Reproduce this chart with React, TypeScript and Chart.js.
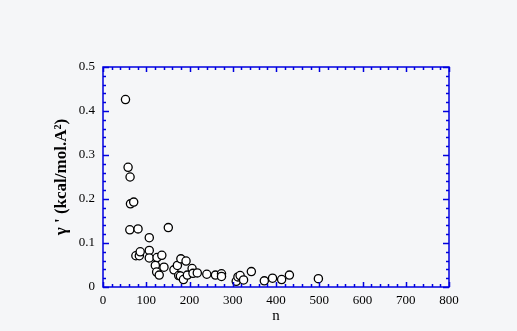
import React, { useEffect, useRef } from "react";
import { Chart, registerables } from "chart.js";

Chart.register(...registerables);

const nValues: number[] = [
  52, 58, 62.6, 63.5, 71, 62, 81, 151, 107, 76, 84, 86, 107, 107, 125, 136,
  121, 124, 130, 141, 164, 172, 180, 192, 175, 179, 186, 195, 206, 208, 218,
  240, 260, 274, 274, 308, 312, 317, 325, 343, 373, 392, 413, 431, 498,
];
const gammaValues: number[] = [
  0.426, 0.272, 0.25, 0.189, 0.193, 0.13, 0.132, 0.135, 0.112, 0.071, 0.071,
  0.08, 0.083, 0.066, 0.067, 0.072, 0.049, 0.034, 0.027, 0.045, 0.039, 0.049,
  0.064, 0.059, 0.026, 0.025, 0.017, 0.027, 0.042, 0.031, 0.032, 0.029, 0.027,
  0.03, 0.024, 0.013, 0.023, 0.026, 0.016, 0.035, 0.014, 0.02, 0.017, 0.027,
  0.019,
];
const xTicks: number[] = [0, 100, 200, 300, 400, 500, 600, 700, 800];
const yTicks: number[] = [0, 0.1, 0.2, 0.3, 0.4, 0.5];
const xTitle = "n";
const yTitle = "γ ' (kcal/mol.A²)";

const AXIS_COLOR = "#0000e0";
const BG = "#f5f6f8";

const framePlugin = {
  id: "frameTicks",
  beforeDraw(chart: any) {
    const { ctx, width, height } = chart;
    ctx.save();
    ctx.fillStyle = BG;
    ctx.fillRect(0, 0, width, height);
    ctx.restore();
  },
  afterDraw(chart: any) {
    const { ctx, chartArea } = chart;
    const xs = chart.scales.x;
    const ys = chart.scales.y;
    const { left, right, top, bottom } = chartArea;
    ctx.save();
    ctx.strokeStyle = AXIS_COLOR;
    ctx.lineWidth = 1.5;
    ctx.beginPath();
    for (let v = 0; v <= 800 + 1e-9; v += 20) {
      const px = Math.round(xs.getPixelForValue(v)) + 0.5;
      const len = Math.abs(v % 100) < 1e-6 ? 5 : 3;
      ctx.moveTo(px, bottom);
      ctx.lineTo(px, bottom - len);
      ctx.moveTo(px, top);
      ctx.lineTo(px, top + len);
    }
    for (let i = 0; i <= 25; i++) {
      const v = i * 0.02;
      const py = Math.round(ys.getPixelForValue(v)) + 0.5;
      const len = i % 5 === 0 ? 6 : 3;
      ctx.moveTo(left, py);
      ctx.lineTo(left + len, py);
      ctx.moveTo(right, py);
      ctx.lineTo(right - len, py);
    }
    ctx.stroke();
    ctx.strokeRect(left, top, right - left, bottom - top);
    ctx.restore();
  },
};

export default function App() {
  const ref = useRef<HTMLCanvasElement | null>(null);
  useEffect(() => {
    document.body.style.margin = "0";
    const canvas = ref.current;
    if (!canvas) return;
    const data = nValues.map((n, i) => ({ x: n, y: gammaValues[i] }));
    const chart = new Chart(canvas, {
      type: "scatter",
      data: {
        datasets: [
          {
            data,
            pointRadius: 4.1,
            pointBorderWidth: 1.3,
            pointBorderColor: "#000000",
            pointBackgroundColor: "#ffffff",
          },
        ],
      },
      options: {
        animation: false,
        responsive: false,
        maintainAspectRatio: false,
        devicePixelRatio: 1,
        layout: { padding: { left: 0, top: 67, right: 68, bottom: 0 } },
        plugins: {
          legend: { display: false },
          tooltip: { enabled: false },
        },
        scales: {
          x: {
            type: "linear",
            min: 0,
            max: 800,
            afterBuildTicks: (s: any) => {
              s.ticks = xTicks.map((v) => ({ value: v }));
            },
            afterFit: (s: any) => {
              s.height = 44;
            },
            grid: { display: false, drawTicks: false },
            border: { display: false },
            ticks: {
              color: "#000",
              padding: 6,
              maxRotation: 0,
              autoSkip: false,
              font: { family: "'Liberation Serif', serif", size: 13 },
            },
            title: {
              display: true,
              text: xTitle,
              color: "#000",
              padding: { top: 0, bottom: 6 },
              font: { family: "'Liberation Serif', serif", size: 15 },
            },
          },
          y: {
            type: "linear",
            min: 0,
            max: 0.5,
            afterBuildTicks: (s: any) => {
              s.ticks = yTicks.map((v) => ({ value: v }));
            },
            afterFit: (s: any) => {
              s.width = 103;
            },
            grid: { display: false, drawTicks: false },
            border: { display: false },
            ticks: {
              color: "#000",
              padding: 8,
              autoSkip: false,
              callback: (v: any) => String(Number(v)),
              font: { family: "'Liberation Serif', serif", size: 13 },
            },
            title: {
              display: true,
              text: yTitle,
              color: "#000",
              padding: { top: 51, bottom: 0 },
              font: { family: "'Liberation Serif', serif", size: 17, weight: "bold" },
            },
          },
        },
      },
      plugins: [framePlugin],
    } as any);
    return () => chart.destroy();
  }, []);
  return (
    <div style={{ position: "fixed", left: 0, top: 0, width: 517, height: 331, background: BG }}>
      <canvas ref={ref} width={517} height={331} style={{ width: 517, height: 331, display: "block" }} />
    </div>
  );
}
